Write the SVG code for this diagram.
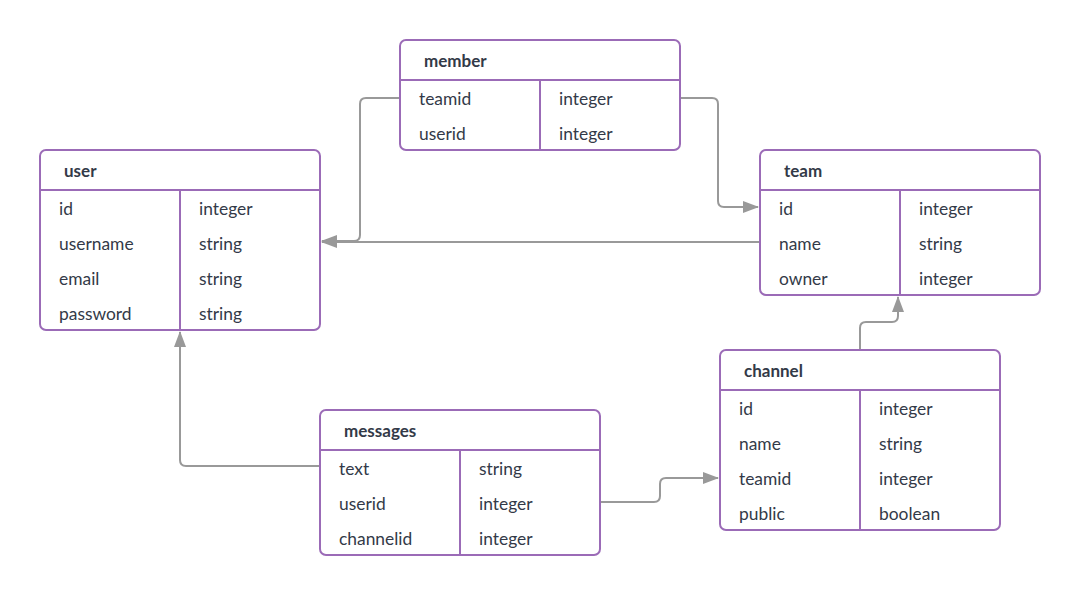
<svg xmlns="http://www.w3.org/2000/svg" width="1080" height="595" viewBox="0 0 1080 595">
<style>
.box{fill:#fff;stroke:#9b6bb7;stroke-width:2}
.ln{stroke:#9b6bb7;stroke-width:2}
.t{font-family:Lato,"Open Sans",sans-serif;font-size:17.4px;fill:#333a48}
.h{font-family:Lato,"Open Sans",sans-serif;font-size:17px;font-weight:bold;fill:#333a48}
.c{fill:none;stroke:#999;stroke-width:2}
</style>
<defs>
<marker id="ar" markerWidth="16" markerHeight="12" refX="15" refY="6" orient="auto" markerUnits="userSpaceOnUse">
<path d="M0,0 L16,6 L0,12 Z" fill="#999"/>
</marker>
</defs>
<g id="connectors">
<path class="c" d="M680,98 H712 Q718,98 718,104 V201 Q718,207 724,207 H758" marker-end="url(#ar)"/>
<path class="c" d="M400,98 H366 Q360,98 360,104 V235 Q360,241 354,241 H322" marker-end="url(#ar)"/>
<path class="c" d="M760,242 H322" marker-end="url(#ar)"/>
<path class="c" d="M320,466 H186 Q180,466 180,460 V332" marker-end="url(#ar)"/>
<path class="c" d="M600,502 H654 Q660,502 660,496 V484 Q660,478 666,478 H718" marker-end="url(#ar)"/>
<path class="c" d="M860,350 V328 Q860,322 866,322 H892 Q898,322 898,316 V297" marker-end="url(#ar)"/>
</g>
<g id="member">
<rect class="box" x="400" y="40" width="280" height="110" rx="6"/>
<line class="ln" x1="400" y1="80" x2="680" y2="80"/>
<line class="ln" x1="540" y1="80" x2="540" y2="150"/>
<text class="h" x="424" y="67">member</text>
<text class="t" x="419" y="105">teamid</text><text class="t" x="559" y="105">integer</text>
<text class="t" x="419" y="140">userid</text><text class="t" x="559" y="140">integer</text>
</g>
<g id="user">
<rect class="box" x="40" y="150" width="280" height="180" rx="6"/>
<line class="ln" x1="40" y1="190" x2="320" y2="190"/>
<line class="ln" x1="180" y1="190" x2="180" y2="330"/>
<text class="h" x="64" y="177">user</text>
<text class="t" x="59" y="215">id</text><text class="t" x="199" y="215">integer</text>
<text class="t" x="59" y="250">username</text><text class="t" x="199" y="250">string</text>
<text class="t" x="59" y="285">email</text><text class="t" x="199" y="285">string</text>
<text class="t" x="59" y="320">password</text><text class="t" x="199" y="320">string</text>
</g>
<g id="team">
<rect class="box" x="760" y="150" width="280" height="145" rx="6"/>
<line class="ln" x1="760" y1="190" x2="1040" y2="190"/>
<line class="ln" x1="900" y1="190" x2="900" y2="295"/>
<text class="h" x="784" y="177">team</text>
<text class="t" x="779" y="215">id</text><text class="t" x="919" y="215">integer</text>
<text class="t" x="779" y="250">name</text><text class="t" x="919" y="250">string</text>
<text class="t" x="779" y="285">owner</text><text class="t" x="919" y="285">integer</text>
</g>
<g id="channel">
<rect class="box" x="720" y="350" width="280" height="180" rx="6"/>
<line class="ln" x1="720" y1="390" x2="1000" y2="390"/>
<line class="ln" x1="860" y1="390" x2="860" y2="530"/>
<text class="h" x="744" y="377">channel</text>
<text class="t" x="739" y="415">id</text><text class="t" x="879" y="415">integer</text>
<text class="t" x="739" y="450">name</text><text class="t" x="879" y="450">string</text>
<text class="t" x="739" y="485">teamid</text><text class="t" x="879" y="485">integer</text>
<text class="t" x="739" y="520">public</text><text class="t" x="879" y="520">boolean</text>
</g>
<g id="messages">
<rect class="box" x="320" y="410" width="280" height="145" rx="6"/>
<line class="ln" x1="320" y1="450" x2="600" y2="450"/>
<line class="ln" x1="460" y1="450" x2="460" y2="555"/>
<text class="h" x="344" y="437">messages</text>
<text class="t" x="339" y="475">text</text><text class="t" x="479" y="475">string</text>
<text class="t" x="339" y="510">userid</text><text class="t" x="479" y="510">integer</text>
<text class="t" x="339" y="545">channelid</text><text class="t" x="479" y="545">integer</text>
</g>
</svg>
